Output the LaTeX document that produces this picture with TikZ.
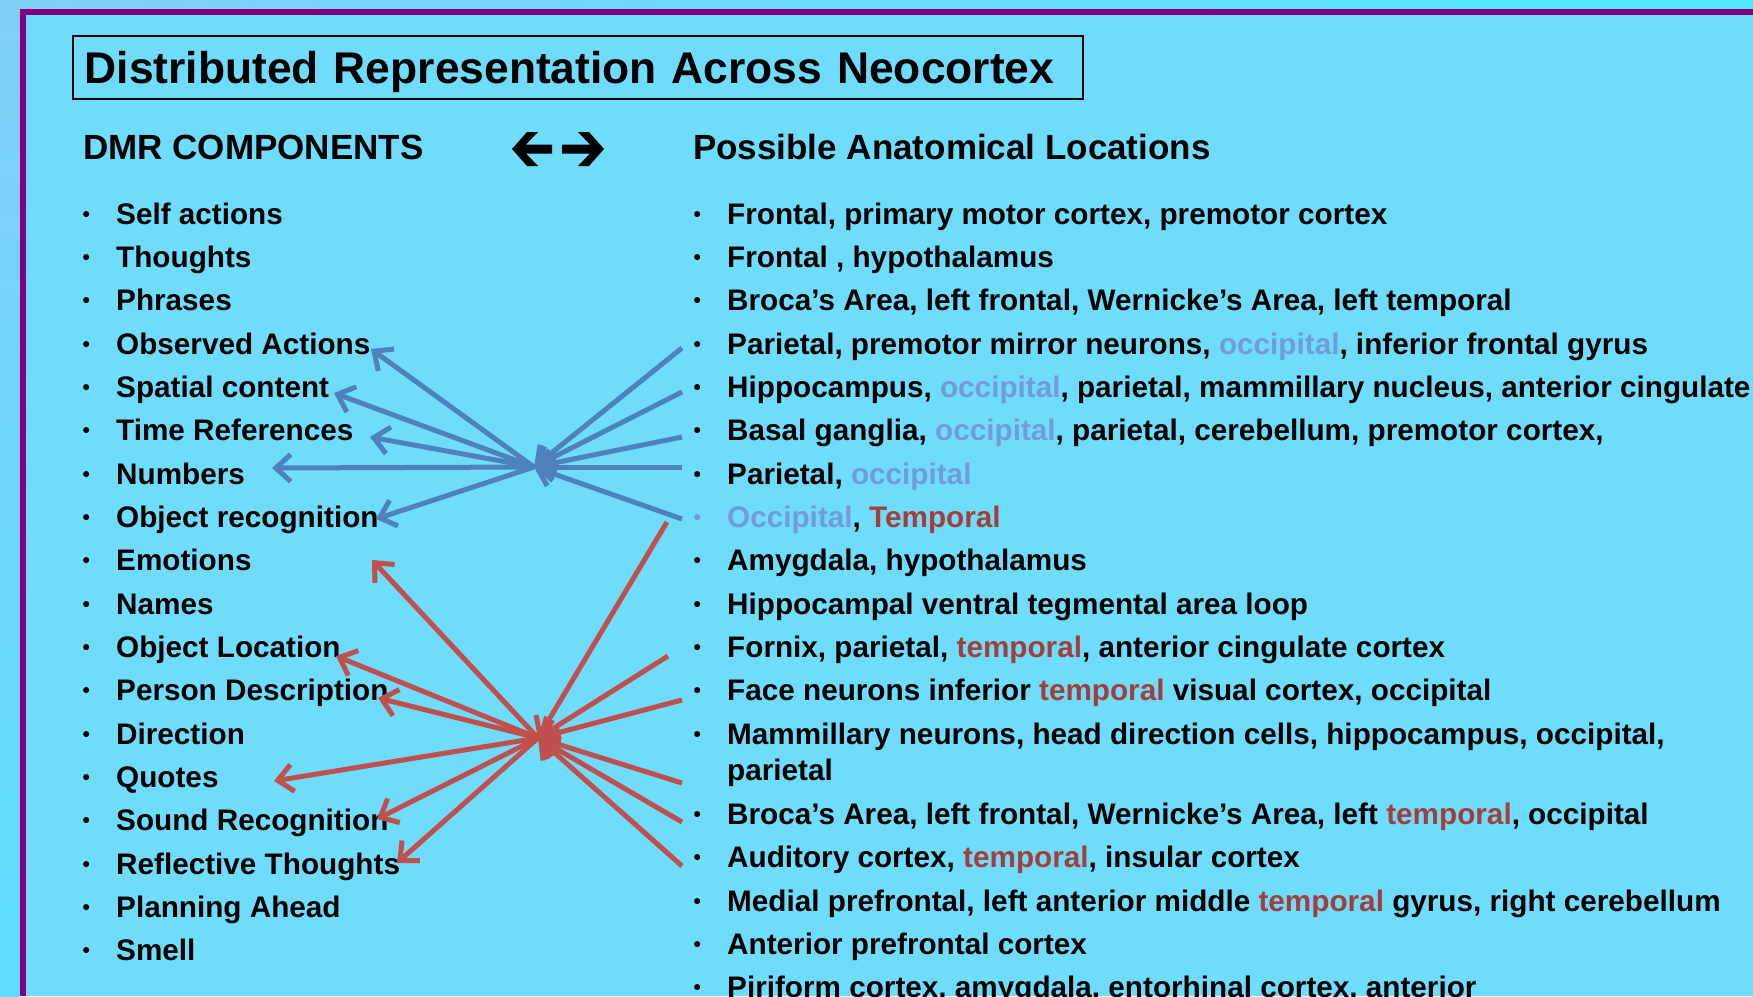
\documentclass[tikz,border=0pt]{standalone}
\usepackage{fontspec}
\setmainfont{Liberation Sans}
\usetikzlibrary{arrows.meta}
\definecolor{bgin}{RGB}{112,220,252}
\definecolor{outerA}{RGB}{128,206,248}
\definecolor{outerB}{RGB}{92,222,252}
\definecolor{outerC}{RGB}{78,232,252}
\definecolor{purp}{RGB}{128,0,128}
\definecolor{occ}{RGB}{114,156,214}
\definecolor{tmp}{RGB}{160,64,60}
\definecolor{blueline}{RGB}{79,129,189}
\definecolor{redline}{RGB}{192,80,77}
\newcommand\occtxt[1]{\textcolor{occ}{#1}}
\newcommand\tmptxt[1]{\textcolor{tmp}{#1}}
\newcommand\bodyfnt{\fontsize{29.7}{36}\selectfont\bfseries}
\newcommand\hdrfnt{\fontsize{35}{40}\selectfont\bfseries}
\newcommand\smallbul{\raisebox{3pt}{\fontsize{21}{21}\selectfont\textbullet}}
\newcommand\bul{\makebox[35pt][l]{\hspace{1.5pt}\smallbul}}
\begin{document}
\begin{tikzpicture}[x=1pt,y=-1pt,
  item/.style={anchor=mid west, inner sep=0pt, font=\bodyfnt, yshift=-8pt},
  hdr/.style={anchor=mid west, inner sep=0pt, font=\hdrfnt, yshift=-9pt},
  barrow/.style={draw=blueline, line width=5pt, -{Straight Barb[length=15pt,width=27pt]}},
  rarrow/.style={draw=redline, line width=5pt, -{Straight Barb[length=15pt,width=27pt]}},
  glyph/.style={fill=black, draw=none}]
\useasboundingbox (0,0) rectangle (1753,996);
% background
\shade[top color=outerA, bottom color=outerB] (0,0) rectangle (20,996);
\shade[left color=outerA, right color=outerC] (20,0) rectangle (1753,9);
\fill[bgin] (26,15) rectangle (1753,996);
\fill[purp] (20,9) rectangle (1753,15);
\fill[purp] (20,9) rectangle (26,996);
% title
\node (title) [draw, line width=1.5pt, anchor=north west, minimum height=63pt,
  inner xsep=12pt, inner ysep=0pt, text width=986pt, align=left, text height=38pt, text depth=6pt,
  font=\fontsize{44.4}{50}\selectfont\bfseries] at (72,35) {Distributed Representation Across Neocortex};
% headers
\node (hdrL) [hdr] at (83,148) {DMR COMPONENTS};
\node (hdrR) [hdr] at (693,148) {Possible Anatomical Locations};
% double arrow glyphs
\fill[glyph] (512,149) -- (527,132) -- (538,132) -- (526,144.5) -- (552,144.5) -- (552,153.5) -- (526,153.5) -- (538,166) -- (527,166) -- cycle;
\fill[glyph] (604,149) -- (589,132) -- (578,132) -- (590,144.5) -- (562,144.5) -- (562,153.5) -- (590,153.5) -- (578,166) -- (589,166) -- cycle;
% left column
\foreach \t [count=\i from 0] in {Self actions, Thoughts, Phrases, Observed Actions, Spatial content, Time References, Numbers, Object recognition, Emotions, Names, Object Location, Person Description, Direction, Quotes, Sound Recognition, Reflective Thoughts, Planning Ahead, Smell}
  \node (L\i) [item] at (81,213.5+43.33*\i) {\bul\t};
% right column
\node (R0) [item] at (692,213.5) {\bul Frontal, primary motor cortex, premotor cortex};
\node (R1) [item] at (692,256.8) {\bul Frontal , hypothalamus};
\node (R2) [item] at (692,300.2) {\bul Broca’s Area, left frontal, Wernicke’s Area, left temporal};
\node (R3) [item] at (692,343.5) {\bul Parietal, premotor mirror neurons, \occtxt{occipital}, inferior frontal gyrus};
\node (R4) [item] at (692,386.8) {\bul Hippocampus, \occtxt{occipital}, parietal, mammillary nucleus, anterior cingulate};
\node (R5) [item] at (692,430.2) {\bul Basal ganglia, \occtxt{occipital}, parietal, cerebellum, premotor cortex,};
\node (R6) [item] at (692,473.5) {\bul Parietal, \occtxt{occipital}};
\node (R7) [item] at (692,516.8) {\makebox[35pt][l]{\hspace{1.5pt}\textcolor{occ}{\smallbul}}\occtxt{Occipital}, \tmptxt{Temporal}};
\node (R8) [item] at (692,560.1) {\bul Amygdala, hypothalamus};
\node (R9) [item] at (692,603.5) {\bul Hippocampal ventral tegmental area loop};
\node (R10) [item] at (692,646.8) {\bul Fornix, parietal, \tmptxt{temporal}, anterior cingulate cortex};
\node (R11) [item] at (692,690.1) {\bul Face neurons inferior \tmptxt{temporal} visual cortex, occipital};
\node (R12) [item] at (692,733.5) {\bul Mammillary neurons, head direction cells, hippocampus, occipital,};
\node (R12b) [item] at (727,769.5) {parietal};
\node (R13) [item] at (692,814) {\bul Broca’s Area, left frontal, Wernicke’s Area, left \tmptxt{temporal}, occipital};
\node (R14) [item] at (692,857) {\bul Auditory cortex, \tmptxt{temporal}, insular cortex};
\node (R15) [item] at (692,900.5) {\bul Medial prefrontal, left anterior middle \tmptxt{temporal} gyrus, right cerebellum};
\node (R16) [item] at (692,943.8) {\bul Anterior prefrontal cortex};
\node (R17) [item] at (692,987) {\bul Piriform cortex, amygdala, entorhinal cortex, anterior};
% hubs and connector ends
\coordinate (bhub) at (534,467);
\coordinate (rhub) at (538,738);
\coordinate (bs3) at (682,348);
\coordinate (bs4) at (682,392);
\coordinate (bs5) at (682,437);
\coordinate (bs6) at (682,467);
\coordinate (bs7) at (682,519);
\coordinate (tL3) at (371,349);
\coordinate (tL4) at (334,393);
\coordinate (tL5) at (370,437);
\coordinate (tL6) at (272,468);
\coordinate (tL7) at (376,519);
\coordinate (rs7) at (667,522);
\coordinate (rs10) at (668,656);
\coordinate (rs11) at (682,700);
\coordinate (rs12) at (682,783);
\coordinate (rs13) at (682,822);
\coordinate (rs14) at (682,866);
\coordinate (tL8) at (372,560);
\coordinate (tL10) at (336,656);
\coordinate (tL11) at (378,698);
\coordinate (tL13) at (274,781);
\coordinate (tL14) at (377,819);
\coordinate (tL15) at (397,863);
% blue connectors
\foreach \s in {3,4,5,6,7} \draw[barrow] (bs\s) -- (bhub);
\foreach \s in {3,4,5,6,7} \draw[barrow] (bhub) -- (tL\s);
% red connectors
\foreach \s in {7,10,11,12,13,14} \draw[rarrow] (rs\s) -- (rhub);
\foreach \s in {8,10,11,13,14,15} \draw[rarrow] (rhub) -- (tL\s);
\end{tikzpicture}
\end{document}
